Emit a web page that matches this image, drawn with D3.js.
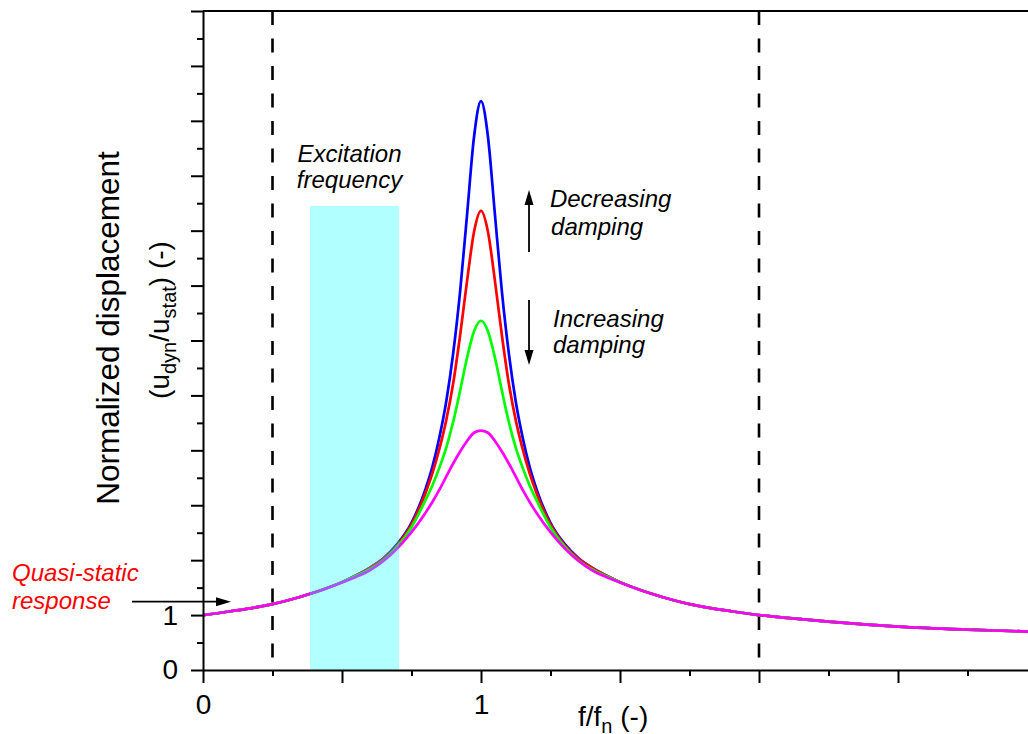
<!DOCTYPE html>
<html><head><meta charset="utf-8">
<script src="https://cdn.jsdelivr.net/npm/d3@7"></script>
<style>body{margin:0;background:#fff;overflow:hidden}</style>
</head><body><svg id="chart" width="1028" height="734"></svg>
<script>
// ---- data ----
const fRatio = [0, 0.1, 0.2, 0.25, 0.3, 0.4, 0.5, 0.55, 0.6, 0.65, 0.7, 0.75, 0.8, 0.825, 0.85, 0.875, 0.9, 0.925, 0.95, 0.975, 1.0,
  1.025, 1.05, 1.075, 1.1, 1.125, 1.15, 1.175, 1.2, 1.25, 1.3, 1.35, 1.4, 1.45, 1.5, 1.6, 1.7, 1.75, 1.8, 1.9, 2.0, 2.1, 2.25, 2.5, 2.75, 3.0];
const dispBlue = [1.00, 1.07, 1.15, 1.20, 1.26, 1.41, 1.60, 1.72, 1.86, 2.04, 2.30, 2.68, 3.29, 3.70, 4.23, 4.89, 5.77, 6.90, 8.30, 9.71, 10.36,
  9.71, 8.30, 6.90, 5.77, 4.89, 4.23, 3.70, 3.29, 2.68, 2.30, 2.04, 1.86, 1.72, 1.60, 1.41, 1.26, 1.20, 1.15, 1.07, 1.00, 0.95, 0.88, 0.79, 0.735, 0.695];
const dispRed = [1.00, 1.07, 1.15, 1.20, 1.26, 1.41, 1.60, 1.72, 1.86, 2.03, 2.28, 2.65, 3.22, 3.58, 4.02, 4.55, 5.22, 6.10, 7.09, 7.98, 8.36,
  7.98, 7.09, 6.10, 5.22, 4.55, 4.02, 3.58, 3.22, 2.65, 2.28, 2.03, 1.86, 1.72, 1.60, 1.41, 1.26, 1.20, 1.15, 1.07, 1.00, 0.95, 0.88, 0.79, 0.735, 0.695];
const dispGreen = [1.00, 1.07, 1.15, 1.20, 1.26, 1.41, 1.60, 1.71, 1.83, 2.00, 2.25, 2.60, 3.09, 3.36, 3.68, 4.05, 4.52, 5.09, 5.69, 6.17, 6.36,
  6.17, 5.69, 5.09, 4.52, 4.05, 3.68, 3.36, 3.09, 2.60, 2.25, 2.00, 1.83, 1.71, 1.60, 1.41, 1.26, 1.20, 1.15, 1.07, 1.00, 0.95, 0.88, 0.79, 0.735, 0.695];
const dispMagenta = [1.00, 1.07, 1.15, 1.20, 1.26, 1.41, 1.595, 1.695, 1.815, 1.99, 2.22, 2.51, 2.86, 3.06, 3.28, 3.52, 3.76, 3.98, 4.17, 4.32, 4.36,
  4.32, 4.17, 3.98, 3.76, 3.52, 3.28, 3.06, 2.86, 2.51, 2.22, 1.99, 1.815, 1.695, 1.595, 1.41, 1.26, 1.20, 1.15, 1.07, 1.00, 0.95, 0.88, 0.79, 0.735, 0.695];
const seriesColors = ["#0000ff", "#ff0000", "#00ff00", "#ff00ff"];

const xMajorTicks = [0, 0.5, 1, 1.5, 2, 2.5, 3];
const xMinorTicks = [0.25, 0.75, 1.25, 1.75, 2.25, 2.75];
const xTickLabels = ["0", "", "1", "", "", "", ""];
const yMajorTicks = [0, 1, 2, 3, 4, 5, 6, 7, 8, 9, 10, 11, 12];
const yMinorTicks = [0.5, 1.5, 2.5, 3.5, 4.5, 5.5, 6.5, 7.5, 8.5, 9.5, 10.5, 11.5];
const yTickLabels = ["0", "1", "", "", "", "", "", "", "", "", "", "", ""];
const dashedFreqs = [0.25, 2.0];
const excitationBand = [0.385, 0.705];
const excitationTop = 8.45;

// ---- layout ----
const svg = d3.select("#chart");
const font = "'Liberation Sans', Arial, sans-serif";
const x = d3.scaleLinear().domain([0, 3]).range([203, 1037]);
const y = d3.scaleLinear().domain([0, 12]).range([670, 11]);

// dashed vertical lines
svg.selectAll("line.dash").data(dashedFreqs).join("line")
  .attr("x1", d => x(d)).attr("x2", d => x(d))
  .attr("y1", y(12)).attr("y2", y(0))
  .attr("stroke", "#000").attr("stroke-width", 2.6)
  .attr("stroke-dasharray", "14,13.5");

// curves
const series = [dispBlue, dispRed, dispGreen, dispMagenta];
const line = d3.line().x(d => x(d[0])).y(d => y(d[1])).curve(d3.curveMonotoneX);
series.forEach((vals, i) => {
  svg.append("path")
    .datum(fRatio.map((f, j) => [f, vals[j]]))
    .attr("d", line)
    .attr("fill", "none")
    .attr("stroke", seriesColors[i])
    .attr("stroke-width", 2.7)
    .attr("stroke-linejoin", "round");
});

// excitation band (translucent cyan over curves)
svg.append("rect")
  .attr("x", x(excitationBand[0])).attr("width", x(excitationBand[1]) - x(excitationBand[0]))
  .attr("y", y(excitationTop)).attr("height", y(0) - y(excitationTop))
  .attr("fill", "#00ffff").attr("fill-opacity", 0.3);

// axes
const styleAxis = g => {
  g.selectAll("path.domain").attr("stroke", "#000").attr("stroke-width", 2);
  g.selectAll(".tick line").attr("stroke", "#000").attr("stroke-width", 2);
  g.selectAll("text").attr("font-family", font).attr("font-size", 28).attr("fill", "#000");
};
svg.append("g").attr("transform", `translate(0,${y(0)})`)
  .call(d3.axisBottom(x).tickValues(xMinorTicks).tickSize(6).tickFormat(""))
  .call(g => g.select("path.domain").remove()).call(styleAxis);
svg.append("g").attr("transform", `translate(0,${y(0)})`)
  .call(d3.axisBottom(x).tickValues(xMajorTicks).tickSize(13).tickSizeOuter(0).tickPadding(11)
    .tickFormat((d, i) => xTickLabels[i]))
  .call(styleAxis);
svg.append("g").attr("transform", `translate(${x(0)},0)`)
  .call(d3.axisLeft(y).tickValues(yMinorTicks).tickSize(6).tickFormat(""))
  .call(g => g.select("path.domain").remove()).call(styleAxis);
svg.append("g").attr("transform", `translate(${x(0)},0)`)
  .call(d3.axisLeft(y).tickValues(yMajorTicks).tickSize(12).tickSizeOuter(0).tickPadding(13)
    .tickFormat((d, i) => yTickLabels[i]))
  .call(styleAxis);
// top frame line
svg.append("line").attr("x1", x(0)).attr("x2", x(3)).attr("y1", y(12)).attr("y2", y(12))
  .attr("stroke", "#000").attr("stroke-width", 2);

// axis titles
const yt = svg.append("g").attr("font-family", font).attr("fill", "#000");
yt.append("text").attr("transform", "translate(119,328) rotate(-90)")
  .attr("text-anchor", "middle").attr("font-size", 31.5).text("Normalized displacement");
const yt2 = yt.append("text").attr("transform", "translate(169,320) rotate(-90)")
  .attr("text-anchor", "middle").attr("font-size", 28);
yt2.append("tspan").text("(u");
yt2.append("tspan").attr("font-size", 20).attr("dy", 7).text("dyn");
yt2.append("tspan").attr("dy", -7).text("/u");
yt2.append("tspan").attr("font-size", 20).attr("dy", 7).text("stat");
yt2.append("tspan").attr("dy", -7).text(") (-)");

const xt = svg.append("text").attr("x", 578).attr("y", 726)
  .attr("font-family", font).attr("font-size", 28).attr("fill", "#000");
xt.append("tspan").text("f/f");
xt.append("tspan").attr("font-size", 20).attr("dy", 7).text("n");
xt.append("tspan").attr("dy", -7).text(" (-)");

// annotations (positions in data units)
const notes = [
  {t: "Excitation", fx: 0.527, fy: 9.25, anchor: "middle", color: "#000"},
  {t: "frequency", fx: 0.527, fy: 8.78, anchor: "middle", color: "#000"},
  {t: "Decreasing", fx: 1.248, fy: 8.43, anchor: "start", color: "#000"},
  {t: "damping", fx: 1.252, fy: 7.92, anchor: "start", color: "#000"},
  {t: "Increasing", fx: 1.259, fy: 6.245, anchor: "start", color: "#000"},
  {t: "damping", fx: 1.259, fy: 5.77, anchor: "start", color: "#000"},
  {t: "Quasi-static", fx: -0.687, fy: 1.62, anchor: "start", color: "#ff0000"},
  {t: "response", fx: -0.687, fy: 1.11, anchor: "start", color: "#ff0000"}
];
svg.selectAll("text.note").data(notes).join("text")
  .attr("x", d => x(d.fx)).attr("y", d => y(d.fy))
  .attr("text-anchor", d => d.anchor)
  .attr("font-family", font).attr("font-style", "italic").attr("font-size", 24)
  .attr("fill", d => d.color).text(d => d.t);

// arrows
const arrows = [
  {x0: 1.1727, y0: 7.61, x1: 1.1727, y1: 8.74},
  {x0: 1.1727, y0: 6.737, x1: 1.1727, y1: 5.554},
  {x0: -0.2554, y0: 1.2437, x1: 0.1007, y1: 1.2437}
];
arrows.forEach(a => {
  const px0 = x(a.x0), py0 = y(a.y0), px1 = x(a.x1), py1 = y(a.y1);
  const len = Math.hypot(px1 - px0, py1 - py0);
  const ux = (px1 - px0) / len, uy = (py1 - py0) / len;
  const hl = 15, hw = 4.5;
  const bx = px1 - ux * hl, by = py1 - uy * hl;
  svg.append("line").attr("x1", px0).attr("y1", py0).attr("x2", bx + ux * 2).attr("y2", by + uy * 2)
    .attr("stroke", "#000").attr("stroke-width", 1.8);
  svg.append("path")
    .attr("d", `M${px1},${py1}L${bx - uy * hw},${by + ux * hw}L${bx + uy * hw},${by - ux * hw}Z`)
    .attr("fill", "#000");
});
</script></body></html>
